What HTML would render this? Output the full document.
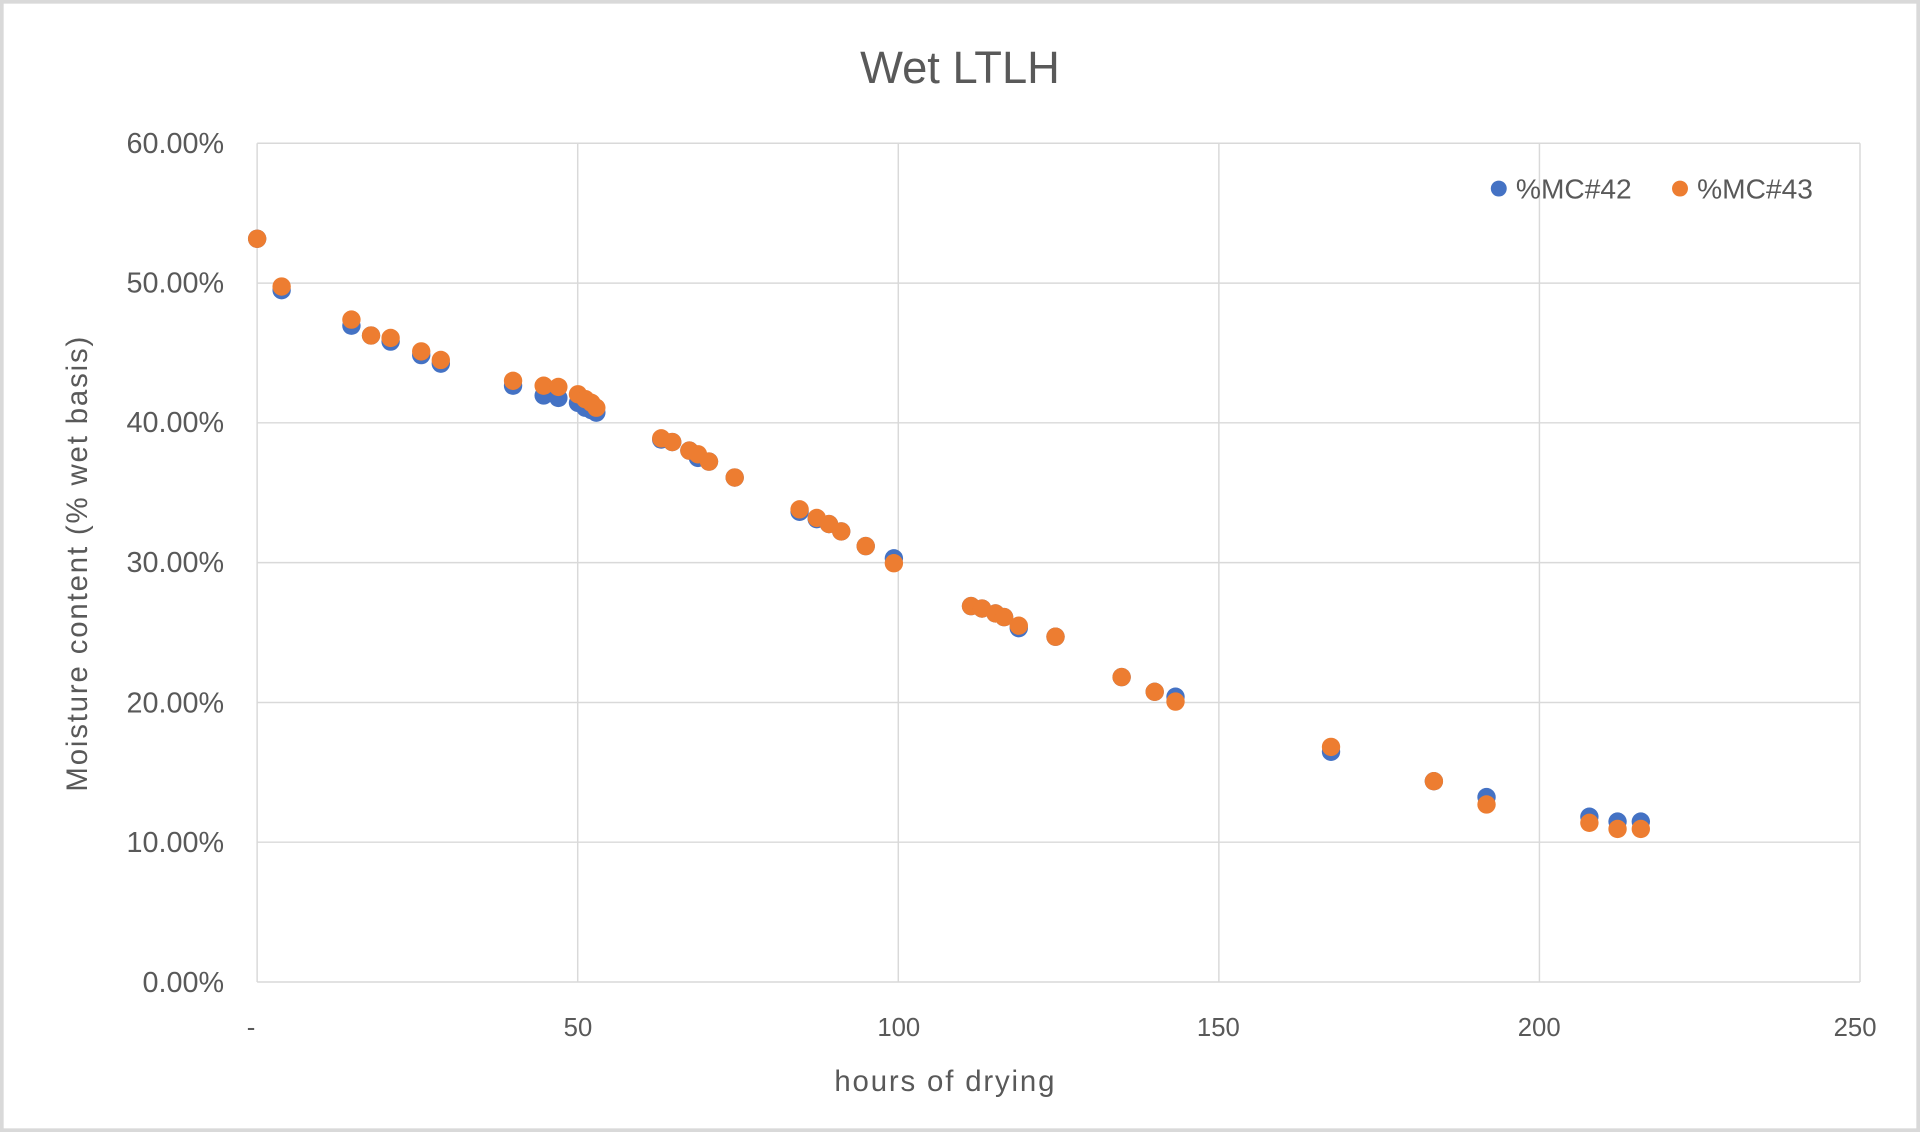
<!DOCTYPE html>
<html><head><meta charset="utf-8"><style>
html,body{margin:0;padding:0;background:#fff;width:1920px;height:1132px;overflow:hidden}
svg{display:block}
text{font-family:"Liberation Sans",sans-serif;fill:#595959}
</style></head><body>
<svg width="1920" height="1132" viewBox="0 0 1568 924.5" preserveAspectRatio="none" xmlns="http://www.w3.org/2000/svg">
<rect x="0" y="0" width="1568" height="924.5" fill="#fff"/>
<rect x="1.5" y="1.5" width="1565" height="921.5" fill="none" stroke="#d9d9d9" stroke-width="3"/>
<text x="784" y="68" font-size="37" text-anchor="middle">Wet LTLH</text>
<g stroke="#d9d9d9" stroke-width="1.2">
<line x1="210" y1="117" x2="1519" y2="117"/>
<line x1="210" y1="231.2" x2="1519" y2="231.2"/>
<line x1="210" y1="345.3" x2="1519" y2="345.3"/>
<line x1="210" y1="459.5" x2="1519" y2="459.5"/>
<line x1="210" y1="573.7" x2="1519" y2="573.7"/>
<line x1="210" y1="687.8" x2="1519" y2="687.8"/>
<line x1="210" y1="802" x2="1519" y2="802"/>
<line x1="210" y1="117" x2="210" y2="802"/>
<line x1="471.8" y1="117" x2="471.8" y2="802"/>
<line x1="733.6" y1="117" x2="733.6" y2="802"/>
<line x1="995.4" y1="117" x2="995.4" y2="802"/>
<line x1="1257.2" y1="117" x2="1257.2" y2="802"/>
<line x1="1519" y1="117" x2="1519" y2="802"/>
</g>
<g font-size="23.5" text-anchor="end">
<text x="183" y="125">60.00%</text>
<text x="183" y="239">50.00%</text>
<text x="183" y="353">40.00%</text>
<text x="183" y="467">30.00%</text>
<text x="183" y="582">20.00%</text>
<text x="183" y="696">10.00%</text>
<text x="183" y="810">0.00%</text>
</g>
<g font-size="21" text-anchor="middle">
<text x="205" y="846">-</text>
<text x="472" y="846">50</text>
<text x="734" y="846">100</text>
<text x="995" y="846">150</text>
<text x="1257" y="846">200</text>
<text x="1515" y="846">250</text>
</g>
<text x="772" y="891" font-size="24" letter-spacing="1.5" text-anchor="middle">hours of drying</text>
<text transform="translate(71,460) rotate(-90)" font-size="24" letter-spacing="1.5" text-anchor="middle">Moisture content (% wet basis)</text>
<g fill="#4472c4">
<circle cx="210" cy="195" r="7.5"/><circle cx="230" cy="237" r="7.5"/><circle cx="287" cy="266" r="7.5"/><circle cx="303" cy="274" r="7.5"/><circle cx="319" cy="279" r="7.5"/><circle cx="344" cy="290" r="7.5"/><circle cx="360" cy="297" r="7.5"/><circle cx="419" cy="315" r="7.5"/><circle cx="444" cy="323" r="7.5"/><circle cx="456" cy="325" r="7.5"/><circle cx="472" cy="329" r="7.5"/><circle cx="478" cy="333" r="7.5"/><circle cx="483" cy="335" r="7.5"/><circle cx="487" cy="337" r="7.5"/><circle cx="540" cy="359" r="7.5"/><circle cx="549" cy="361" r="7.5"/><circle cx="563" cy="368" r="7.5"/><circle cx="570" cy="374" r="7.5"/><circle cx="579" cy="377" r="7.5"/><circle cx="600" cy="390" r="7.5"/><circle cx="653" cy="418" r="7.5"/><circle cx="667" cy="424" r="7.5"/><circle cx="677" cy="428" r="7.5"/><circle cx="687" cy="434" r="7.5"/><circle cx="707" cy="446" r="7.5"/><circle cx="730" cy="456" r="7.5"/><circle cx="793" cy="495" r="7.5"/><circle cx="802" cy="497" r="7.5"/><circle cx="813" cy="501" r="7.5"/><circle cx="820" cy="504" r="7.5"/><circle cx="832" cy="513" r="7.5"/><circle cx="862" cy="520" r="7.5"/><circle cx="916" cy="553" r="7.5"/><circle cx="943" cy="565" r="7.5"/><circle cx="960" cy="569" r="7.5"/><circle cx="1087" cy="614" r="7.5"/><circle cx="1171" cy="638" r="7.5"/><circle cx="1214" cy="651" r="7.5"/><circle cx="1298" cy="667" r="7.5"/><circle cx="1321" cy="671" r="7.5"/><circle cx="1340" cy="671" r="7.5"/>
<circle cx="1224" cy="154" r="6.5"/>
</g>
<g fill="#ed7d31">
<circle cx="210" cy="195" r="7.5"/><circle cx="230" cy="234" r="7.5"/><circle cx="287" cy="261" r="7.5"/><circle cx="303" cy="274" r="7.5"/><circle cx="319" cy="276" r="7.5"/><circle cx="344" cy="287" r="7.5"/><circle cx="360" cy="294" r="7.5"/><circle cx="419" cy="311" r="7.5"/><circle cx="444" cy="315" r="7.5"/><circle cx="456" cy="316" r="7.5"/><circle cx="472" cy="322" r="7.5"/><circle cx="478" cy="326" r="7.5"/><circle cx="483" cy="329" r="7.5"/><circle cx="487" cy="333" r="7.5"/><circle cx="540" cy="358" r="7.5"/><circle cx="549" cy="361" r="7.5"/><circle cx="563" cy="368" r="7.5"/><circle cx="570" cy="371" r="7.5"/><circle cx="579" cy="377" r="7.5"/><circle cx="600" cy="390" r="7.5"/><circle cx="653" cy="416" r="7.5"/><circle cx="667" cy="423" r="7.5"/><circle cx="677" cy="428" r="7.5"/><circle cx="687" cy="434" r="7.5"/><circle cx="707" cy="446" r="7.5"/><circle cx="730" cy="460" r="7.5"/><circle cx="793" cy="495" r="7.5"/><circle cx="802" cy="497" r="7.5"/><circle cx="813" cy="501" r="7.5"/><circle cx="820" cy="504" r="7.5"/><circle cx="832" cy="511" r="7.5"/><circle cx="862" cy="520" r="7.5"/><circle cx="916" cy="553" r="7.5"/><circle cx="943" cy="565" r="7.5"/><circle cx="960" cy="573" r="7.5"/><circle cx="1087" cy="610" r="7.5"/><circle cx="1171" cy="638" r="7.5"/><circle cx="1214" cy="657" r="7.5"/><circle cx="1298" cy="672" r="7.5"/><circle cx="1321" cy="677" r="7.5"/><circle cx="1340" cy="677" r="7.5"/>
<circle cx="1372" cy="154" r="6.5"/>
</g>
<text x="1238" y="162" font-size="23">%MC#42</text>
<text x="1386" y="162" font-size="23">%MC#43</text>
</svg>
</body></html>
